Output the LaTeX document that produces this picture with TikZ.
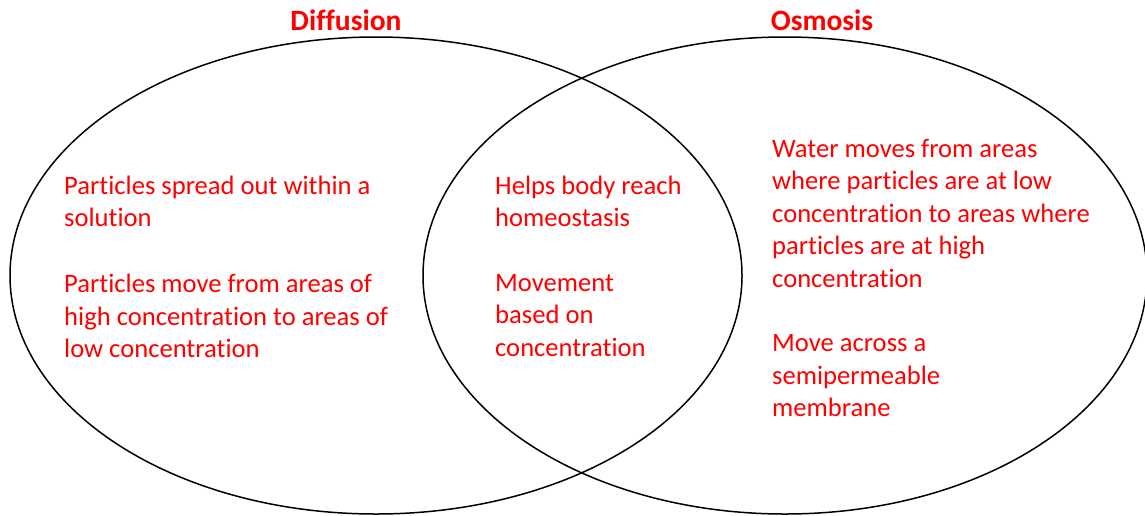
\documentclass[tikz,border=0pt]{standalone}
\usepackage{fontspec}
\setmainfont{Carlito}[Ligatures=NoCommon]
\usetikzlibrary{shapes.geometric}
\definecolor{vred}{RGB}{255,0,0}
\tikzset{
  venn/.style={draw=black, line width=1.5pt},
  body/.style={text=vred, anchor=north west, inner sep=0pt, align=left, font=\fontsize{26.6}{32.4}\selectfont},
  head/.style={text=vred, inner sep=0pt, font=\bfseries\fontsize{29.5}{34}\selectfont}
}
\begin{document}
\begin{tikzpicture}[x=1pt,y=-1pt]
\useasboundingbox (0,0) rectangle (1145,515);
\draw[venn] (376,275.5) ellipse [x radius=366, y radius=238.5];
\draw[venn] (785,275.5) ellipse [x radius=362, y radius=238.5];
\node[head] (t1) at (346,20) {Diffusion};
\node[head] (t2) at (822,20) {Osmosis};
\node[body] (l1) at (64,175.5) {Particles spread out within a\\solution};
\node[body] (l2) at (64,274) {Particles move from areas of\\high concentration to areas of\\low concentration};
\node[body] (m1) at (495,175.5) {Helps body reach\\homeostasis};
\node[body] (m2) at (495,274) {Movement\\based on\\concentration};
\node[body] (r1) at (772,139) {Water moves from areas\\where particles are at low\\concentration to areas where\\particles are at high\\concentration};
\node[body] (r2) at (772,334.5) {Move across a\\semipermeable\\membrane};
\end{tikzpicture}
\end{document}
